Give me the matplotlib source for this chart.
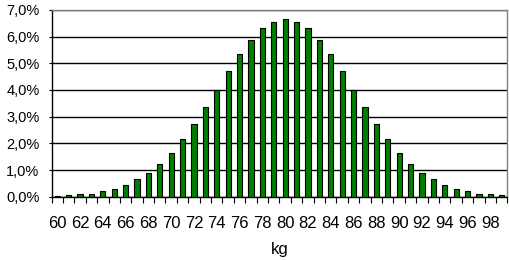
import matplotlib
matplotlib.use("Agg")
import matplotlib.pyplot as plt
import numpy as np
from matplotlib.ticker import FuncFormatter, MultipleLocator, FixedLocator

plt.rcParams['font.family'] = ['Liberation Sans', 'DejaVu Sans']

kg = list(range(60, 100))
share = [0.03, 0.08, 0.11, 0.11, 0.21, 0.29, 0.45, 0.66, 0.89, 1.23,
         1.64, 2.16, 2.74, 3.36, 4.01, 4.70, 5.33, 5.86, 6.31, 6.54,
         6.65, 6.54, 6.31, 5.86, 5.33, 4.70, 4.01, 3.36, 2.74, 2.16,
         1.64, 1.23, 0.89, 0.66, 0.45, 0.29, 0.21, 0.11, 0.11, 0.08]
xlabel = "kg"

fig = plt.figure(figsize=(5.1, 2.6), dpi=100)
ax = fig.add_axes([0.101, 0.243, 0.894, 0.719])

x = np.arange(len(kg))
ax.bar(x, share, width=0.46, color="#008000", edgecolor="black", linewidth=0.8, zorder=3)

ax.set_xlim(-0.5, len(kg) - 0.5)
ax.set_ylim(0, 7)
ax.yaxis.set_major_locator(MultipleLocator(1))
ax.yaxis.set_major_formatter(FuncFormatter(lambda v, p: f"{v:.1f}%".replace(".", ",")))
ax.grid(axis="y", color="black", linewidth=1, zorder=1)

ax.set_xticks(x[::2])
ax.set_xticklabels([str(k) for k in kg[::2]])
ax.xaxis.set_minor_locator(FixedLocator(np.arange(-0.5, len(kg), 1)))
ax.tick_params(axis="x", which="major", length=0, pad=13.5, labelsize=12)
ax.tick_params(axis="x", which="minor", length=4, width=0.8, color="black")
ax.tick_params(axis="y", which="major", length=2.2, width=0.8, labelsize=10.5, pad=6.5)

for s in ["left", "bottom"]:
    ax.spines[s].set_color("black")
    ax.spines[s].set_linewidth(1)
for s in ["top", "right"]:
    ax.spines[s].set_color("#808080")
    ax.spines[s].set_linewidth(1)

ax.set_xlabel(xlabel, fontsize=12, labelpad=8)

fig.savefig("out.png", dpi=100)
